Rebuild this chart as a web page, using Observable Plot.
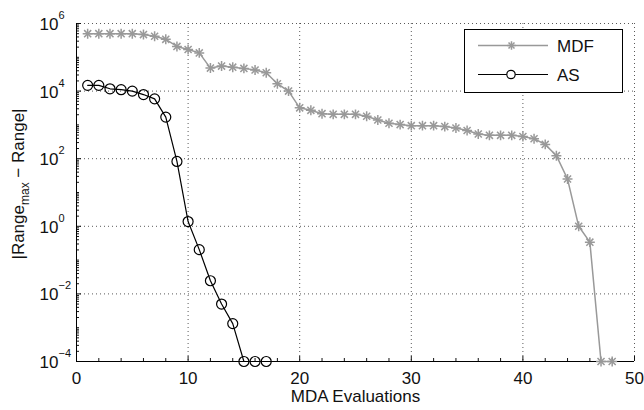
<!DOCTYPE html>
<html><head><meta charset="utf-8">
<script src="https://cdn.jsdelivr.net/npm/d3@7"></script>
<script src="https://cdn.jsdelivr.net/npm/@observablehq/plot@0.6"></script>
<style>
body{margin:0;background:#fff;}
#chart{position:relative;width:644px;height:410px;}
</style></head><body><div id="chart"></div>
<script>
// ---- data ----
const mdfX = [1,2,3,4,5,6,7,8,9,10,11,12,13,14,15,16,17,18,19,20,21,22,23,24,25,26,27,28,29,30,31,32,33,34,35,36,37,38,39,40,41,42,43,44,45,46,47,48];
const mdfY = [5.0e5,5.0e5,5.0e5,5.0e5,5.0e5,4.7e5,4.2e5,3.4e5,2.1e5,1.7e5,1.35e5,4.8e4,5.5e4,5.1e4,4.7e4,4.2e4,3.5e4,1.65e4,1.0e4,3.2e3,2.7e3,2.15e3,2.05e3,2.05e3,2.05e3,1.8e3,1.4e3,1.12e3,1.02e3,950,950,950,890,810,680,540,490,490,490,455,390,265,123,25,1.0,0.34,1e-4,1e-4];
const asX = [1,2,3,4,5,6,7,8,9,10,11,12,13,14,15,16,17];
const asY = [1.48e4,1.48e4,1.17e4,1.1e4,1.0e4,7.9e3,5.9e3,1.7e3,83,1.38,0.204,0.0245,0.005,0.00132,1e-4,1e-4,1e-4];
const seriesNames = ["MDF","AS"];
const xTicks = [0,10,20,30,40,50];
const yTicks = [1e-4,1e-2,1,1e2,1e4,1e6];
const yTickExp = ["\u22124","\u22122","0","2","4","6"];
const xLabel = "MDA Evaluations";

const xMinor = [2,4,6,8,12,14,16,18,22,24,26,28,32,34,36,38,42,44,46,48];
const yMinor = [];
for (let e = -4; e < 6; e++) for (let m = 1; m < 10; m++) if (!(m === 1 && e % 2 === 0)) yMinor.push(m * Math.pow(10, e));

const mdf = mdfX.map((x, i) => ({x, y: mdfY[i]}));
const as = asX.map((x, i) => ({x, y: asY[i]}));

const font = "'Liberation Sans', Arial, Helvetica, sans-serif";
const gridStyle = {stroke: "#000", strokeOpacity: 0.65, strokeDasharray: "1,3"};

const plot = Plot.plot({
  width: 644, height: 410,
  marginLeft: 76, marginRight: 10, marginTop: 23, marginBottom: 49,
  style: {fontFamily: font, fontSize: "17px", color: "#111", background: "white", overflow: "visible"},
  x: {domain: [0, 50], label: null},
  y: {type: "log", domain: [1e-4, 1e6], label: null},
  marks: [
    Plot.gridX(xTicks.slice(1), gridStyle),
    Plot.gridY(yTicks.slice(1), gridStyle),
    Plot.axisX({ticks: xMinor, tickSize: 3, dy: -3, tickFormat: () => "", label: null}),
    Plot.axisX({ticks: xTicks, tickSize: 5, dy: -5, tickFormat: () => "", label: null}),
    Plot.axisX({ticks: xTicks, tickSize: 0, tickPadding: 10, label: null, fontSize: 17}),
    Plot.axisY({ticks: yMinor, tickSize: 3, dx: 3, tickFormat: () => "", label: null}),
    Plot.axisY({ticks: yTicks, tickSize: 5, dx: 5, tickFormat: () => "", label: null}),
    Plot.text(yTicks, {y: d => d, frameAnchor: "left", text: () => "10", textAnchor: "start", dx: -37, dy: 1, fontSize: 17}),
    Plot.text(yTicks, {y: d => d, frameAnchor: "left", text: (d, i) => yTickExp[i], textAnchor: "start", dx: -18, dy: -8, fontSize: 11}),
    Plot.ruleX([0], {stroke: "#000"}),
    Plot.ruleY([1e-4], {stroke: "#000"}),
    Plot.line(mdf, {x: "x", y: "y", stroke: "#999", strokeWidth: 1.5}),
    Plot.dot(mdf, {x: "x", y: "y", symbol: "plus", r: 3.3, stroke: "#999", strokeWidth: 1.5}),
    Plot.dot(mdf, {x: "x", y: "y", symbol: "times", r: 3.3, stroke: "#999", strokeWidth: 1.5}),
    Plot.line(as, {x: "x", y: "y", stroke: "#000", strokeWidth: 1.2}),
    Plot.dot(as, {x: "x", y: "y", r: 5, stroke: "#000", strokeWidth: 1.2, fill: "none"}),
    Plot.text([xLabel], {frameAnchor: "bottom", dy: 40, fontSize: 17})
  ]
});

const svg = d3.select(plot);
// y-axis label with subscript
const yl = svg.append("text")
  .attr("transform", "translate(24,184) rotate(-90)")
  .attr("text-anchor", "middle")
  .attr("font-family", font).attr("font-size", 17).attr("fill", "#111");
yl.append("tspan").text("|Range");
yl.append("tspan").attr("font-size", 12).attr("dy", 5).text("max");
yl.append("tspan").attr("dy", -5).text(" \u2212 Range|");

// legend
const lg = svg.append("g").attr("font-family", font).attr("font-size", 17).attr("text-anchor", "start");
lg.append("rect").attr("x", 464.5).attr("y", 29.5).attr("width", 158).attr("height", 63)
  .attr("fill", "white").attr("stroke", "#000").attr("stroke-width", 1);
const rows = [{name: seriesNames[0], y: 45.5, color: "#999"}, {name: seriesNames[1], y: 74.5, color: "#000"}];
rows.forEach((r, i) => {
  lg.append("line").attr("x1", 478).attr("x2", 548).attr("y1", r.y).attr("y2", r.y)
    .attr("stroke", r.color).attr("stroke-width", i === 0 ? 1.5 : 1.2);
  if (i === 0) {
    lg.append("path").attr("d", d3.symbol(d3.symbolPlus, 25)()).attr("transform", `translate(511.5,${r.y})`)
      .attr("stroke", r.color).attr("stroke-width", 1.5).attr("fill", "none");
    lg.append("path").attr("d", d3.symbol(d3.symbolTimes, 25)()).attr("transform", `translate(511.5,${r.y})`)
      .attr("stroke", r.color).attr("stroke-width", 1.5).attr("fill", "none");
  } else {
    lg.append("circle").attr("cx", 511).attr("cy", r.y).attr("r", 4.2)
      .attr("stroke", r.color).attr("stroke-width", 1.2).attr("fill", "white");
  }
  lg.append("text").attr("x", 557).attr("y", r.y).attr("dy", "0.36em").attr("text-anchor", "start").attr("fill", "#111").text(r.name);
});

document.getElementById("chart").appendChild(plot);
</script>
</body></html>
